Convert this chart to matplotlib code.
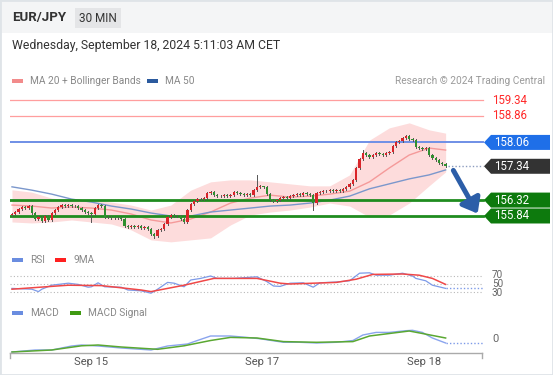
import matplotlib
matplotlib.use('Agg')
import matplotlib.pyplot as plt
import matplotlib.patches as mpatches
from matplotlib.lines import Line2D

plt.rcParams['font.family'] = ['Roboto', 'DejaVu Sans']

# candle closes (30 min), open = previous close
closes = [155.90,155.96,156.05,156.11,156.08,156.14,155.93,155.75,155.81,155.69,
          155.84,155.72,155.93,156.02,156.11,156.17,156.14,156.17,156.14,156.14,
          156.08,156.02,155.96,155.93,155.90,156.08,156.17,156.14,155.81,155.81,
          155.78,155.78,155.78,155.75,155.54,155.51,155.54,155.51,155.54,155.48,
          155.51,155.45,155.30,155.24,155.42,155.45,155.60,155.81,155.87,155.84,
          155.84,155.75,155.66,156.02,156.20,156.29,156.35,156.35,156.38,156.53,
          156.56,156.47,156.44,156.44,156.47,156.44,156.47,156.56,156.53,156.50,
          156.47,156.50,156.47,156.62,156.71,156.74,156.71,156.50,156.32,156.29,
          156.32,156.38,156.41,156.38,156.44,156.47,156.50,156.47,156.53,156.50,
          156.47,156.23,156.53,156.56,156.59,156.59,156.62,156.59,156.62,156.59,
          156.65,156.71,156.81,156.93,157.29,157.56,157.74,157.68,157.62,157.68,
          157.74,157.71,157.68,157.74,157.77,157.95,158.07,158.10,158.19,158.25,
          158.16,158.13,157.92,157.89,157.86,157.89,157.68,157.59,157.53,157.44,
          157.41,157.34]
first_open = 155.87
# wick lengths in pips above / below the body
wick_up = [3,2,4,2,3,2,3,2,4,2, 3,3,2,4,3,2,3,2,3,2, 2,3,2,3,2,4,3,2,2,3,
           2,3,2,2,3,2,2,3,2,3, 2,3,2,3,4,2,3,3,2,3, 2,2,3,4,3,2,3,2,3,2,
           3,2,2,3,2,2,3,2,3,2, 2,3,3,4,36,3,2,3,2,2, 3,2,3,2,2,3,2,3,2,3,
           2,3,2,3,2,2,3,2,3,2, 2,3,3,2,3,3,9,3,3,2, 3,2,3,2,2,3,3,2,3,4,
           3,2,3,2,3,2,3,2,2,3, 2,2]
wick_dn = [3,4,2,3,2,3,4,3,2,4, 3,2,4,3,2,3,2,3,2,3, 3,2,3,2,24,3,2,3,3,2,
           3,2,3,2,3,4,2,3,2,3, 3,2,4,5,3,2,3,2,3,2, 3,4,3,2,3,2,3,2,3,2,
           2,3,2,3,2,3,2,3,2,3, 2,3,2,3,2,2,3,4,3,2, 3,2,3,2,3,2,3,2,3,2,
           3,21,3,2,3,2,3,2,3,2, 3,2,3,2,3,2,3,3,2,3, 2,3,2,3,2,3,2,3,2,3,
           2,3,3,2,3,2,3,2,3,2, 3,2]

# indicator samples (every 6 candles + last)
ind_idx = [0,6,12,18,24,30,36,42,48,54,60,66,72,78,84,90,96,102,108,114,120,126,131]
ma20 = [156.17,156.14,156.08,156.11,156.08,156.02,155.90,155.72,155.63,155.75,155.96,156.23,
        156.38,156.47,156.41,156.44,156.50,156.59,156.87,157.29,157.68,157.89,157.83]
bb_up = [156.63,156.56,156.38,156.32,156.32,156.26,156.17,156.02,156.17,156.62,156.87,156.93,
         156.93,156.87,156.81,156.75,156.75,157.08,158.13,158.50,158.65,158.44,158.34]
bb_dn = [155.66,155.63,155.66,155.72,155.66,155.60,155.42,155.12,155.06,155.12,155.18,155.57,
         155.87,155.96,156.02,156.11,156.23,156.14,155.81,155.87,156.23,156.75,157.17]
ma50 = [156.72,156.62,156.50,156.35,156.26,156.14,156.05,155.93,155.84,155.84,155.96,156.02,
        156.08,156.14,156.17,156.23,156.32,156.44,156.66,156.81,156.96,157.08,157.23]

resistances = [159.34, 158.86]
pivot = 158.06
last_price = 157.34
supports = [156.32, 155.84]

rsi_idx = [0,6,8,9,12,17,20,23,24,26,28,33,35,39,42,44,47,49,52,54,57,60,62,67,74,77,79,81,
           84,88,91,93,98,102,105,108,110,114,118,121,122,125,127,129,131]
rsi_val = [39,37,31,37,47,52,49,42,43,53,43,42,35,33,27,37,54,52,43,60,64,70,64,64,68,56,45,44,
           52,53,42,53,55,58,77,78,72,72,77,70,64,58,47,43,39]
rsi_ma_idx = [0,17,27,39,42,52,61,67,74,81,84,98,104,109,118,123,127,131]
rsi_ma_val = [37,47,46,35,31,47,64,64,64,52,50,54,62,74,75,72,64,49]

macd_idx = [0,7,12,18,21,26,33,42,47,53,56,60,66,71,75,82,87,92,98,103,106,110,114,119,121,124,127,131]
macd_val = [-0.11,-0.09,-0.09,-0.05,-0.04,-0.05,-0.07,-0.09,-0.05,-0.03,0.005,0.05,0.05,0.036,0.022,
            -0.013,-0.013,-0.02,-0.013,0.005,0.06,0.086,0.086,0.103,0.107,0.086,0.03,-0.02]
sig_idx = [0,12,21,26,33,44,52,60,66,74,82,92,103,108,114,120,124,131]
sig_val = [-0.11,-0.09,-0.048,-0.04,-0.06,-0.083,-0.048,0.005,0.036,0.03,-0.006,-0.013,-0.006,
           0.05,0.075,0.10,0.075,0.03]

date_ticks = [24, 75.5, 124.5]
date_labels = ['Sep 15', 'Sep 17', 'Sep 18']

W, H = 553, 375
def fx(x):
    return x / W
def fy(y):
    return 1 - y / H

fig = plt.figure(figsize=(W / 100, H / 100), dpi=100)
fig.patch.set_facecolor('white')

# header
fig.add_artist(mpatches.Rectangle((0, fy(33)), 1, 33 / H, transform=fig.transFigure,
                                  facecolor='#f4f5f6', edgecolor='none'))
fig.add_artist(mpatches.Rectangle((fx(75), fy(28)), 46 / W, 20 / H, transform=fig.transFigure,
                                  facecolor='#e4e5e7', edgecolor='none'))
fig.text(fx(12), fy(18), 'EUR/JPY', fontsize=9.5, fontweight='bold', color='#333333', va='center')
fig.text(fx(98), fy(18), '30 MIN', fontsize=8.5, color='#333333', va='center', ha='center')
fig.text(fx(12), fy(45), 'Wednesday, September 18, 2024 5:11:03 AM CET', fontsize=8.8,
         color='#333333', va='center')

def legend_item(x, y, color, label):
    fig.add_artist(mpatches.Rectangle((fx(x), fy(y + 2)), 11 / W, 4 / H, transform=fig.transFigure,
                                      facecolor=color, edgecolor='none'))
    fig.text(fx(x + 18), fy(y), label, fontsize=7.3, color='#888888', va='center')

legend_item(12, 81, '#f28b8b', 'MA 20 + Bollinger Bands')
legend_item(147, 81, '#2b5a9e', 'MA 50')
fig.text(fx(545), fy(81), 'Research \u00a9 2024 Trading Central', fontsize=7.3, color='#9a9a9a',
         va='center', ha='right')

# ---- main price panel ----
ax = fig.add_axes([fx(10), fy(245), (487 - 10) / W, (245 - 90) / H])
ax.set_xlim(-0.6, 143.5)
ax.set_ylim(154.965, 159.642)
ax.axis('off')

ax.fill_between(ind_idx, bb_dn, bb_up, color='#fddcdc', lw=0, zorder=1)
ax.plot(ind_idx, ma20, color='#f59a9a', lw=1, zorder=2)
ax.plot(ind_idx, ma50, color='#7b97cc', lw=1, zorder=2)

x_end = 142.3
for r in resistances:
    ax.plot([-0.6, x_end], [r, r], color='#ff9e9e', lw=0.9, zorder=1)
ax.plot([-0.6, x_end], [pivot, pivot], color='#6f8fe6', lw=1.4, zorder=1)
for s in supports:
    ax.plot([-0.6, x_end], [s, s], color='#1f8c1f', lw=2.0, zorder=3)
ax.plot([131.8, x_end], [last_price, last_price], color='#8c9cbf', lw=1, ls=(0, (1, 1.5)), zorder=1)

opens = [first_open] + closes[:-1]
for i, (o, c) in enumerate(zip(opens, closes)):
    top = max(o, c)
    bot = min(o, c)
    ax.plot([i, i], [bot - wick_dn[i] / 100, top + wick_up[i] / 100], color='#555555', lw=0.7, zorder=4)
    col = '#d9252a' if c > o else '#2f8f2f'
    ax.bar(i, max(top - bot, 0.012), bottom=bot, width=0.7, color=col, lw=0, zorder=5)

# forecast arrow
fig.add_artist(mpatches.FancyArrowPatch((fx(452), fy(168)), (fx(479), fy(216)),
                                        transform=fig.transFigure,
                                        arrowstyle='-|>,head_length=0.7,head_width=0.55',
                                        mutation_scale=12, lw=3.6, color='#2c5ea8'))

# price tags
def py(p):
    return 100 + (159.34 - p) * 33.14

def tag(price, color):
    yc = py(price)
    h = 7.5
    pts = [(fx(484), fy(yc)), (fx(491), fy(yc - h)), (fx(550), fy(yc - h)),
           (fx(550), fy(yc + h)), (fx(491), fy(yc + h))]
    fig.add_artist(mpatches.Polygon(pts, closed=True, transform=fig.transFigure,
                                    facecolor=color, edgecolor='none'))
    fig.text(fx(494), fy(yc), '%.2f' % price, fontsize=8.3, color='white', va='center')

for r in resistances:
    fig.text(fx(492), fy(py(r)), '%.2f' % r, fontsize=8.3, color='#ff2a2a', va='center')
tag(pivot, '#1f6fe8')
tag(last_price, '#333333')
for s in supports:
    tag(s, '#0d7a0d')

# ---- RSI ----
legend_item(12, 260, '#6a8de0', 'RSI')
legend_item(55, 260, '#ff2020', '9MA')
rx = fig.add_axes([fx(10), fy(298), (487 - 10) / W, 32 / H])
rx.set_xlim(-0.6, 143.5)
rx.set_ylim(15, 95)
rx.axis('off')
for lvl in [70, 50, 30]:
    rx.plot([-0.6, x_end], [lvl, lvl], color='#b8b8b8', lw=0.8, ls=(0, (1, 2)))
rx.plot(rsi_idx, rsi_val, color='#7d9ae8', lw=0.9)
rx.plot(rsi_ma_idx, rsi_ma_val, color='#f04848', lw=1.1)
rx.plot([131, x_end], [rsi_val[-1], rsi_val[-1]], color='#7d9ae8', lw=1, ls=(0, (1, 1.5)))
for lvl, ypx in [(70, 275), (50, 284), (30, 293)]:
    fig.text(fx(492), fy(ypx), str(lvl), fontsize=7.2, color='#666666', va='center',
             bbox=dict(facecolor='white', edgecolor='none', pad=0.3))

# ---- MACD ----
legend_item(12, 313, '#6a8de0', 'MACD')
legend_item(70, 313, '#3f9a12', 'MACD Signal')
mx = fig.add_axes([fx(10), fy(354), (487 - 10) / W, 32 / H])
mx.set_xlim(-0.6, 143.5)
mx.set_ylim(-0.13, 0.19)
mx.axis('off')
mx.plot(macd_idx, macd_val, color='#8aa4ee', lw=1)
mx.plot(sig_idx, sig_val, color='#5aa832', lw=1.1)
mx.plot([131, x_end], [macd_val[-1], macd_val[-1]], color='#7d9ae8', lw=1, ls=(0, (1, 1.5)))
fig.text(fx(492), fy(339), '0', fontsize=8, color='#666666', va='center')

# time axis
fig.add_artist(Line2D([fx(10), fx(482)], [fy(353), fy(353)], transform=fig.transFigure,
                      color='#aaaaaa', lw=1))
for xe in [10, 482]:
    fig.add_artist(Line2D([fx(xe), fx(xe)], [fy(353), fy(358)], transform=fig.transFigure,
                          color='#aaaaaa', lw=1))
for t, lab in zip(date_ticks, date_labels):
    xp = 12 + t * 3.31
    fig.text(fx(xp), fy(362), lab, fontsize=8, color='#555555', va='center', ha='center')

# outer border
fig.add_artist(mpatches.Rectangle((0, 0), 1, 1, transform=fig.transFigure, fill=False,
                                  edgecolor='#dfe4e8', lw=2))

fig.savefig('out.png', dpi=100)
